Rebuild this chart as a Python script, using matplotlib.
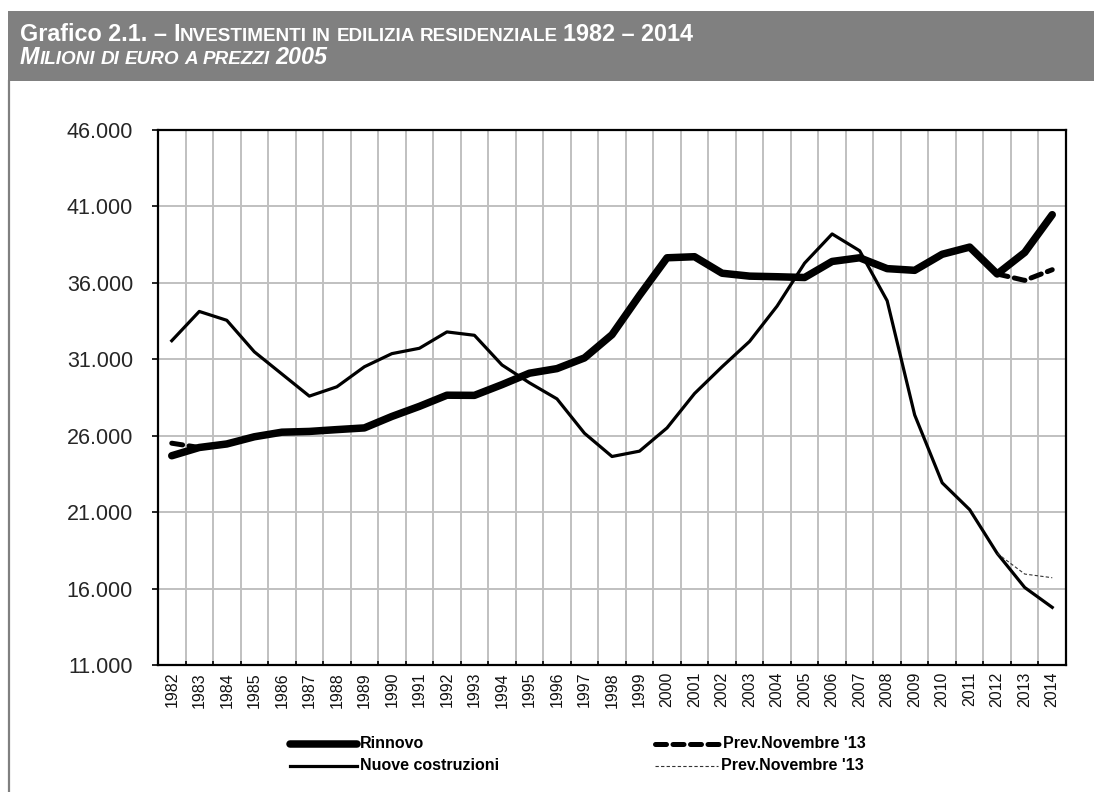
import numpy as np
import matplotlib
matplotlib.use("Agg")
import matplotlib.pyplot as plt
from matplotlib.lines import Line2D
from matplotlib.patches import Rectangle
from matplotlib.ticker import FuncFormatter, FixedLocator

# ---------------- data ----------------
years = [str(y) for y in range(1982, 2015)]
rinnovo = [24690, 25230, 25460, 25930, 26230, 26280, 26400, 26510, 27260, 27920,
           28650, 28640, 29340, 30090, 30390, 31090, 32610, 35180, 37640, 37710,
           36630, 36440, 36400, 36350, 37400, 37640, 36930, 36820, 37870, 38340,
           36580, 37990, 40460]
nuove = [32215, 34130, 33550, 31490, 30040, 28590, 29200, 30510, 31370, 31720,
         32790, 32570, 30630, 29460, 28410, 26160, 24640, 24990, 26510, 28760,
         30510, 32170, 34480, 37290, 39200, 38100, 34830, 27360, 22920, 21160,
         18300, 16070, 14770]
prev_rinnovo = [25510, 25230] + [None] * 28 + [36580, 36160, 36860]
prev_nuove = [None] * 30 + [18300, 16950, 16710]

series_names = ["Rinnovo", "Nuove costruzioni", "Prev.Novembre '13", "Prev.Novembre '13"]
yticks = [11000, 16000, 21000, 26000, 31000, 36000, 41000, 46000]

# ---------------- figure ----------------
W, H = 1094, 792
fig = plt.figure(figsize=(W / 100, H / 100), dpi=100)
fig.patch.set_facecolor("white")

def fx(px):
    return px / W

def fy(py):
    return 1 - py / H

# header band and left border
fig.add_artist(Rectangle((fx(8), fy(81)), fx(W) - fx(8), fy(11) - fy(81),
                         transform=fig.transFigure, facecolor="#808080",
                         edgecolor="none", zorder=0))
fig.add_artist(Line2D([fx(9), fx(9)], [fy(81), 0], transform=fig.transFigure,
                      color="#808080", lw=1.6))

# rich (small caps) title
renderer = fig.canvas.get_renderer()
BIG, SMALL = 16.8, 13.6

def rich_line(x_px, y_px, tokens, style):
    x = x_px
    for tok in tokens:
        if isinstance(tok, (int, float)):
            x += tok
            continue
        s, size = tok
        t = fig.text(fx(x), fy(y_px), s, fontsize=size, fontweight="bold",
                     fontstyle=style, color="white", ha="left", va="baseline",
                     family="Liberation Sans")
        bb = t.get_window_extent(renderer)
        x += bb.width

sp_b = BIG * 100 / 72 * 0.278
sp_s = SMALL * 100 / 72 * 0.278
rich_line(20, 41, [("Grafico 2.1. \u2013", BIG), sp_b, ("I", BIG),
                   ("NVESTIMENTI", SMALL), sp_s, ("IN", SMALL), sp_s,
                   ("EDILIZIA", SMALL), sp_s, ("RESIDENZIALE", SMALL), sp_s,
                   ("1982 \u2013 2014", BIG)], "normal")
rich_line(20, 64, [("M", BIG), ("ILIONI", SMALL), sp_s, ("DI", SMALL), sp_s,
                   ("EURO", SMALL), sp_s, ("A", SMALL), sp_s, ("PREZZI", SMALL),
                   sp_s, ("2005", BIG)], "italic")

# ---------------- axes ----------------
ax = fig.add_axes([fx(158), fy(665), fx(1066) - fx(158), fy(130) - fy(665)])
x = np.arange(len(years))

ax.plot(x, rinnovo, color="black", lw=5.4, solid_capstyle="round",
        solid_joinstyle="round", zorder=3, label=series_names[0])
ax.plot(x, nuove, color="black", lw=2.3, solid_joinstyle="round",
        zorder=3, label=series_names[1])
ax.plot(x, np.array(prev_rinnovo, dtype=float), color="black", lw=3.6,
        dashes=(2.2, 1.3), dash_capstyle="round", zorder=4, label=series_names[2])
ax.plot(x, np.array(prev_nuove, dtype=float), color="#333333", lw=0.8,
        dashes=(3, 2), zorder=4, label=series_names[3])

ax.set_xlim(-0.5, len(years) - 0.5)
ax.set_ylim(yticks[0], yticks[-1])
ax.set_yticks(yticks)
ax.yaxis.set_major_formatter(FuncFormatter(lambda v, p: f"{v:,.0f}".replace(",", ".")))
ax.set_xticks(x)
ax.set_xticklabels(years, rotation=90)
ax.xaxis.set_minor_locator(FixedLocator(np.arange(0.5, len(years) - 1, 1.0)))

ax.grid(False)
ax.grid(axis="y", which="major", color="#c0c0c0", lw=1.4, zorder=1)
ax.grid(axis="x", which="minor", color="#c0c0c0", lw=1.4, zorder=1)
ax.set_axisbelow(True)

for sp in ax.spines.values():
    sp.set_linewidth(1.6)
    sp.set_color("black")

ax.tick_params(axis="y", which="major", direction="out", length=4, width=1.2,
               pad=14, labelsize=15.5, labelcolor="#262626",
               labelfontfamily="Liberation Sans")
ax.tick_params(axis="x", which="major", length=0, pad=5, labelsize=11.5,
               labelcolor="#111111", labelfontfamily="Liberation Sans")
ax.tick_params(axis="x", which="minor", direction="in", length=3, width=1.2,
               color="black")

# ---------------- legend ----------------
leg_font = dict(fontsize=11.5, fontweight="bold", color="black",
                family="Liberation Sans", ha="left", va="center")
keys = [
    (290, 357, 744, dict(color="black", lw=5.4, solid_capstyle="round")),
    (290, 357, 766, dict(color="black", lw=2.3)),
    (655, 720, 744, dict(color="black", lw=3.6, dashes=(2.2, 1.3), dash_capstyle="round")),
    (655, 718, 766, dict(color="#333333", lw=0.8, dashes=(3, 2))),
]
for (x0, x1, yy, kw), name in zip(keys, series_names):
    fig.add_artist(Line2D([fx(x0), fx(x1)], [fy(yy), fy(yy)],
                          transform=fig.transFigure, **kw))
    fig.text(fx(x1 + 3), fy(yy), name, **leg_font)

fig.savefig("out.png", dpi=100, facecolor="white")
